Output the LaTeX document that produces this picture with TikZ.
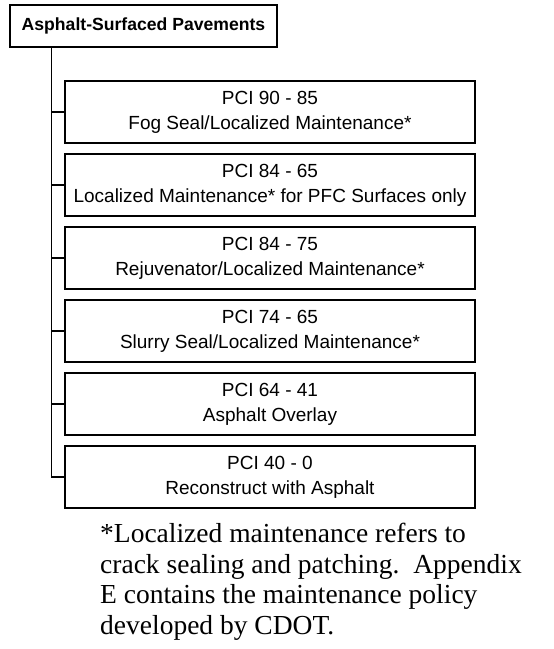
\documentclass[tikz,border=0pt]{standalone}
\usepackage{fontspec}
\setmainfont{Liberation Serif}
\setsansfont{Liberation Sans}
\usetikzlibrary{positioning, calc}

\begin{document}
\begin{tikzpicture}[x=1pt, y=-1pt, node distance=11pt, every node/.style={font=\sffamily\fontsize{19}{25}\selectfont}]
  % styles
  \tikzstyle{header}=[rectangle, draw=black, line width=1.1pt, minimum width=267pt, minimum height=42pt, align=center, inner sep=0pt, font=\sffamily\bfseries\fontsize{17.6}{22}\selectfont]
  \tikzstyle{level}=[rectangle, draw=black, line width=1.2pt, outer sep=0pt, minimum width=410pt, minimum height=62pt, align=center, inner sep=0pt]
  \tikzstyle{link}=[line width=1.3pt]
  \tikzstyle{note}=[anchor=north west, align=left, inner sep=0pt, font=\rmfamily\fontsize{27.5}{30.7}\selectfont]

  \useasboundingbox (0,0) rectangle (554,649);

  % nodes
  \node (title) [header] at (143.5,26) {Asphalt-Surfaced Pavements};
  \coordinate (trunk) at ($(title.south west)+(42pt,0)$);

  \node (pci90) [level] at (270,112) {PCI 90 - 85\\Fog Seal/Localized Maintenance*};
  \node (pci84a) [level, below=of pci90] {PCI 84 - 65\\Localized Maintenance* for PFC Surfaces only};
  \node (pci84b) [level, below=of pci84a] {PCI 84 - 75\\Rejuvenator/Localized Maintenance*};
  \node (pci74) [level, below=of pci84b] {PCI 74 - 65\\Slurry Seal/Localized Maintenance*};
  \node (pci64) [level, below=of pci74] {PCI 64 - 41\\Asphalt Overlay};
  \node (pci40) [level, below=of pci64] {PCI 40 - 0\\Reconstruct with Asphalt};

  \node (footnote) [note] at (100,523) {*Localized maintenance refers to\\crack sealing and patching.\ \ Appendix\\E contains the maintenance policy\\developed by CDOT.};

  % connectors
  \draw[link] (trunk) |- (pci90.west);
  \draw[link] (trunk) |- (pci84a.west);
  \draw[link] (trunk) |- (pci84b.west);
  \draw[link] (trunk) |- (pci74.west);
  \draw[link] (trunk) |- (pci64.west);
  \draw[link] (trunk) |- (pci40.west);
\end{tikzpicture}
\end{document}
